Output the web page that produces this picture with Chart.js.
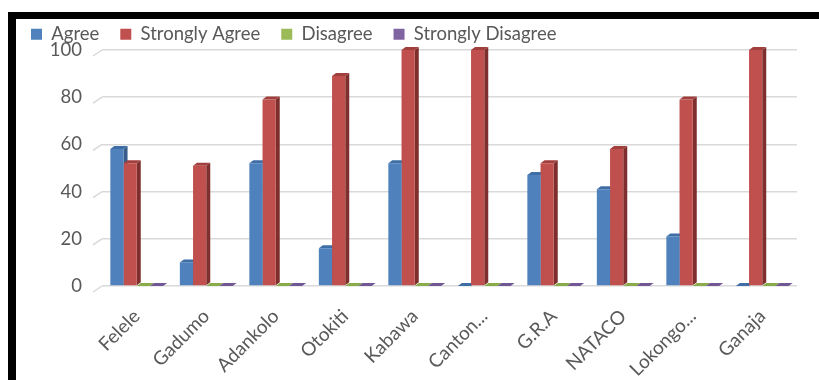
<!DOCTYPE html>
<html>
<head>
<meta charset="utf-8">
<script src="https://cdn.jsdelivr.net/npm/chart.js@4"></script>
<style>
  body { margin: 0; background: #fff; width: 819px; height: 380px; overflow: hidden; position: relative; }
  #wrap { position: absolute; left: 10px; top: 4px; width: 809px; height: 376px; }
  .frame-top { position: absolute; left: 8px; top: 12px; width: 811px; height: 7px; background: #000; }
  .frame-left { position: absolute; left: 8px; top: 12px; width: 8px; height: 368px; background: #000; }
</style>
</head>
<body>
<div id="wrap"><canvas id="chart"></canvas></div>
<div class="frame-top"></div>
<div class="frame-left"></div>
<script>
const categories = ["Felele", "Gadumo", "Adankolo", "Otokiti", "Kabawa", "Canton...", "G.R.A", "NATACO", "Lokongo...", "Ganaja"];
const agree = [58, 10, 52, 16, 52, 0, 47, 41, 21, 0];
const stronglyAgree = [52, 51, 79, 89, 100, 100, 52, 58, 79, 100];
const disagree = [0, 0, 0, 0, 0, 0, 0, 0, 0, 0];
const stronglyDisagree = [0, 0, 0, 0, 0, 0, 0, 0, 0, 0];
const yTicks = [0, 20, 40, 60, 80, 100];

const FONT = "Lato";
const TEXT = "#595959";
const DX = 4, DY = 3;

// side faces and top caps, drawn behind the bar fronts
const bars3d = {
    id: "bars3d",
    beforeDatasetsDraw(chart) {
        const ctx = chart.ctx;
        const y = chart.scales.y;
        const left = chart.chartArea.left;
        ctx.save();
        ctx.strokeStyle = "#d9d9d9";
        ctx.lineWidth = 1.5;
        yTicks.forEach(v => {
            const py = y.getPixelForValue(v);
            ctx.beginPath();
            ctx.moveTo(left - 9, py + 6);
            ctx.lineTo(left, py);
            ctx.stroke();
        });
        chart.data.datasets.forEach((ds, i) => {
            const meta = chart.getDatasetMeta(i);
            meta.data.forEach(bar => {
                const p = bar.getProps(["x", "y", "base", "width"], true);
                const l = p.x - p.width / 2, r = p.x + p.width / 2;
                ctx.fillStyle = ds.sideColor;
                ctx.beginPath();
                ctx.moveTo(r, p.y);
                ctx.lineTo(r + DX, p.y - DY);
                ctx.lineTo(r + DX, p.base - DY);
                ctx.lineTo(r, p.base);
                ctx.closePath();
                ctx.fill();
                ctx.fillStyle = ds.topColor;
                ctx.beginPath();
                ctx.moveTo(l, p.y);
                ctx.lineTo(l + DX, p.y - DY);
                ctx.lineTo(r + DX, p.y - DY);
                ctx.lineTo(r, p.y);
                ctx.closePath();
                ctx.fill();
            });
        });
        ctx.restore();
    }
};

const legendHeight = {
    id: "legendHeight",
    afterInit(chart) {
        const lg = chart.legend;
        const fit = lg.fit;
        lg.fit = function () {
            fit.call(this);
            this.height = 46;
        };
    }
};

new Chart(document.getElementById("chart"), {
    type: "bar",
    data: {
        labels: categories,
        datasets: [
            { label: "Agree", data: agree, backgroundColor: "#4f81bd", sideColor: "#385d8a", topColor: "#3f6ea6" },
            { label: "Strongly Agree", data: stronglyAgree, backgroundColor: "#c0504d", sideColor: "#7e2f2d", topColor: "#a03f3c" },
            { label: "Disagree", data: disagree, backgroundColor: "#9bbb59", sideColor: "#6f8a3a", topColor: "#8aab49" },
            { label: "Strongly Disagree", data: stronglyDisagree, backgroundColor: "#8064a2", sideColor: "#5c4778", topColor: "#715793" }
        ]
    },
    options: {
        responsive: true,
        maintainAspectRatio: false,
        animation: false,
        layout: { padding: { left: 0, right: 22, top: 0, bottom: 0 } },
        datasets: { bar: { categoryPercentage: 0.76, barPercentage: 1.0 } },
        plugins: {
            legend: {
                position: "top",
                align: "start",
                labels: {
                    boxWidth: 11,
                    boxHeight: 11,
                    padding: 21,
                    color: TEXT,
                    font: { family: FONT, size: 18.5 }
                }
            },
            tooltip: { enabled: false }
        },
        scales: {
            x: {
                afterFit(scale) { scale.height = 94; },
                grid: { display: false },
                border: { display: false },
                ticks: {
                    autoSkip: false,
                    minRotation: 45,
                    maxRotation: 45,
                    padding: 11,
                    color: TEXT,
                    font: { family: FONT, size: 19 }
                }
            },
            y: {
                min: 0,
                max: 100,
                afterFit(scale) { scale.width = 92; },
                grid: { color: "#d9d9d9", lineWidth: 1.5, drawTicks: false },
                border: { display: false },
                ticks: {
                    stepSize: 20,
                    padding: 20,
                    color: TEXT,
                    font: { family: FONT, size: 18.5 }
                }
            }
        }
    },
    plugins: [bars3d, legendHeight]
});
</script>
</body>
</html>
